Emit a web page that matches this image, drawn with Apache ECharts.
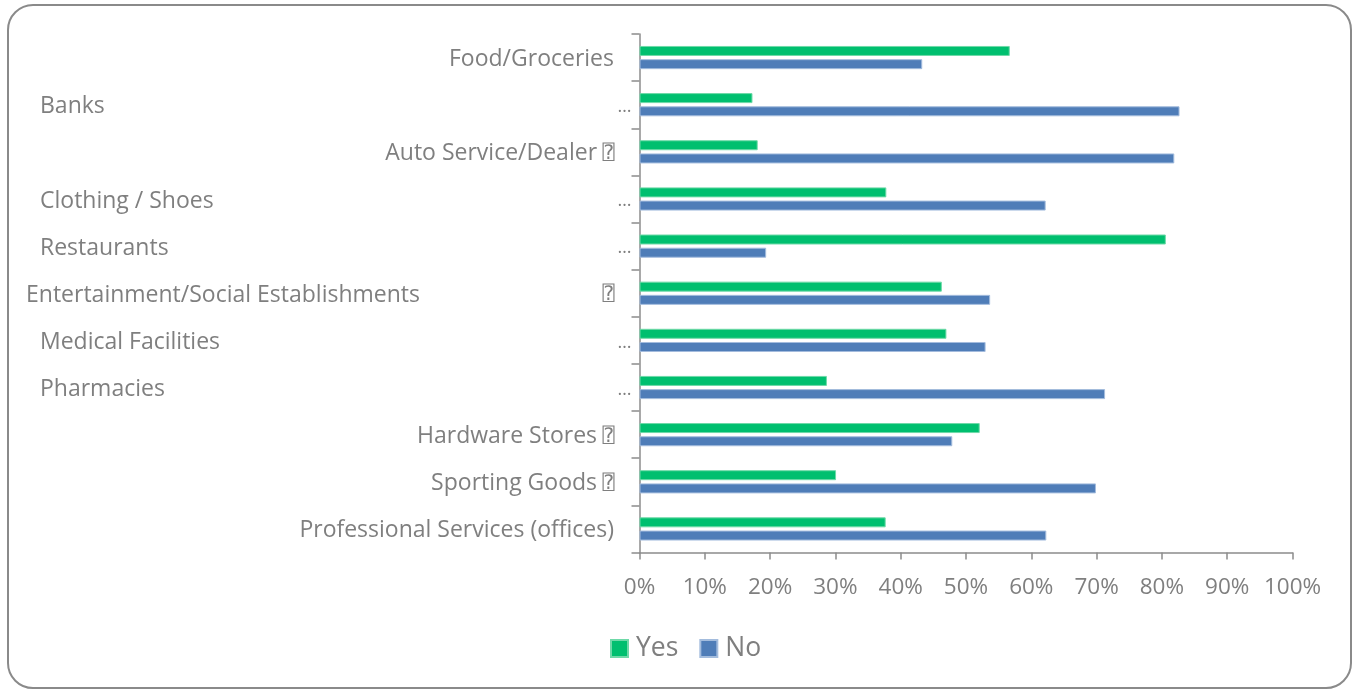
<!DOCTYPE html>
<html>
<head>
<meta charset="utf-8">
<title>Yes / No by business type</title>
<script src="https://cdn.jsdelivr.net/npm/echarts@6/dist/echarts.min.js"></script>
<style>
  html, body { margin: 0; padding: 0; background: #ffffff; }
  #chart { position: absolute; left: 0; top: 0; width: 1353px; height: 689px; }
  #frame {
    position: absolute; left: 7px; top: 4px; width: 1345px; height: 685px;
    box-sizing: border-box; border: 2px solid #8a8a8a; border-radius: 26px;
    pointer-events: none;
  }
</style>
</head>
<body>
<div id="chart"></div>
<div id="frame"></div>
<script>
// Business types, top to bottom
const categories = [
  'Food/Groceries',
  'Banks',
  'Auto Service/Dealer',
  'Clothing / Shoes',
  'Restaurants',
  'Entertainment/Social Establishments',
  'Medical Facilities',
  'Pharmacies',
  'Hardware Stores',
  'Sporting Goods',
  'Professional Services (offices)'
];

// Trailing marks that appear after each category name
const labelMarks = ['', '…', '⍰', '…', '…', '⍰', '…', '…', '⍰', '⍰', ''];

// Share of answers, in percent
const yesShare = [56.7, 17.3, 18.1, 37.8, 80.6, 46.3, 47.0, 28.7, 52.1, 30.1, 37.7];
const noShare  = [43.3, 82.7, 81.9, 62.2, 19.4, 53.7, 53.0, 71.3, 47.9, 69.9, 62.3];

// Value axis ticks
const valueTicks = { min: 0, max: 100, interval: 10 };

const TEXT = '#7f7f7f';
const AXIS = '#8c8c8c';
const FONT = '"Open Sans", "Noto Sans", sans-serif';
const BOX_FONT = '"DejaVu Sans Mono", "DejaVu Sans", sans-serif';

// Names that wrap in their label cell are drawn flush left
const flushLeft = new Set([
  'Banks', 'Clothing / Shoes', 'Restaurants',
  'Entertainment/Social Establishments', 'Medical Facilities', 'Pharmacies'
]);

function categoryLabel(name, i) {
  const mark = labelMarks[i];
  if (flushLeft.has(name)) {
    if (mark === '…') return '{l|' + name + '}{d|…}';
    return '{w|' + name + '}{q|' + mark + '}{sp| }';
  }
  if (mark === '⍰') return '{n|' + name + ' }{q|⍰}{sp| }';
  return '{n|' + name + '}{sp| }';
}

const chart = echarts.init(document.getElementById('chart'), null, { renderer: 'canvas' });

chart.setOption({
  animation: false,
  backgroundColor: '#ffffff',
  textStyle: { fontFamily: FONT, color: TEXT },
  grid: { left: 639.5, right: 60.5, top: 34, bottom: 136.5, containLabel: false },
  legend: {
    data: ['Yes', 'No'],
    left: 605,
    top: 630,
    icon: 'rect',
    itemWidth: 17,
    itemHeight: 17,
    itemGap: 21,
    textStyle: { fontFamily: FONT, fontSize: 26.5, color: TEXT, padding: [0, 0, 0, 3] }
  },
  xAxis: {
    type: 'value',
    min: valueTicks.min,
    max: valueTicks.max,
    interval: valueTicks.interval,
    axisLine: { show: true, lineStyle: { color: AXIS, width: 1.5 } },
    axisTick: { show: true, length: 7, lineStyle: { color: AXIS, width: 1.5 } },
    splitLine: { show: false },
    axisLabel: {
      formatter: '{value}%',
      margin: 24,
      fontFamily: FONT,
      fontSize: 22.5,
      color: TEXT
    }
  },
  yAxis: {
    type: 'category',
    inverse: true,
    data: categories,
    axisLine: { show: true, lineStyle: { color: AXIS, width: 1.5 } },
    axisTick: { show: true, length: 8, alignWithLabel: false, lineStyle: { color: AXIS, width: 1.5 } },
    axisLabel: {
      interval: 0,
      margin: 8,
      padding: [4, 0, 0, 0],
      fontFamily: FONT,
      fontSize: 23,
      color: TEXT,
      formatter: categoryLabel,
      rich: {
        n:  { fontFamily: FONT, fontSize: 23, color: TEXT },
        sp: { fontFamily: FONT, fontSize: 23, width: 17.5 },
        l:  { fontFamily: FONT, fontSize: 23, color: TEXT, width: 577, align: 'left' },
        w:  { fontFamily: FONT, fontSize: 23, color: TEXT, width: 577, align: 'left' },
        d:  { fontFamily: FONT, fontSize: 18, color: TEXT, width: 14.5, align: 'right' },
        q:  { fontFamily: BOX_FONT, fontSize: 20, color: TEXT, width: 11, align: 'center' }
      }
    }
  },
  series: [
    {
      name: 'Yes',
      type: 'bar',
      data: yesShare,
      barWidth: 10,
      barGap: '32%',
      itemStyle: { color: '#00bf6f', borderColor: '#6fd9a8', borderWidth: 1 }
    },
    {
      name: 'No',
      type: 'bar',
      data: noShare,
      barWidth: 10,
      itemStyle: { color: '#4f7db8', borderColor: '#a3bcdd', borderWidth: 1 }
    }
  ]
});
</script>
</body>
</html>
